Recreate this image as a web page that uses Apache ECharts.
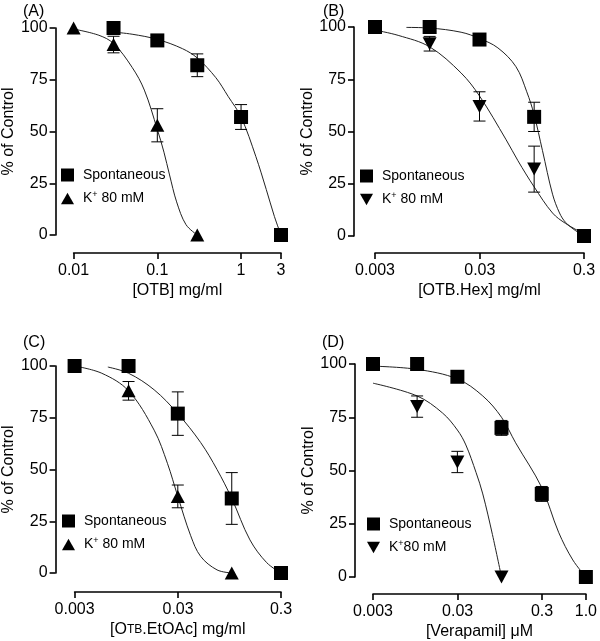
<!DOCTYPE html>
<html><head><meta charset="utf-8">
<script src="https://cdn.jsdelivr.net/npm/echarts@6/dist/echarts.min.js"></script>
<style>html,body{margin:0;padding:0;background:#fff}#c{width:600px;height:641px}</style>
</head><body><div id="c"></div>
<script>
// ---------- Panel A : [OTB] ----------
const A_ticks = [0.01, 0.1, 1, 3];
const A_tickLabels = ['0.01', '0.1', '1', '3'];
const A_spont_x = [0.03, 0.1, 0.3, 1, 3];
const A_spont_y = [100, 94, 82, 57, 0];
const A_spont_err = [0, 0, 5.5, 6, 0];
const A_k_x = [0.01, 0.03, 0.1, 0.3];
const A_k_y = [100, 92, 53, 0];
const A_k_err = [0, 4, 8, 0];
const A_spontFit_x = [0.03, 0.05, 0.1, 0.2, 0.3, 0.5, 0.7, 1, 1.5, 2, 2.5, 3];
const A_spontFit_y = [98, 97, 94.5, 90, 85.5, 76, 67, 57, 38, 22, 9, 0];
const A_kFit_x = [0.01, 0.02, 0.03, 0.05, 0.07, 0.1, 0.12, 0.14, 0.17, 0.22, 0.3];
const A_kFit_y = [99.5, 96.5, 92.5, 81, 70, 51, 40, 29, 16, 5, 0];

// ---------- Panel B : [OTB.Hex] ----------
const B_ticks = [0.003, 0.03, 0.3];
const B_tickLabels = ['0.003', '0.03', '0.3'];
const B_spont_x = [0.003, 0.01, 0.03, 0.1, 0.3];
const B_spont_y = [100, 100, 94, 57, 0];
const B_spont_err = [0, 0, 0, 7, 0];
const B_k_x = [0.01, 0.03, 0.1, 0.3];
const B_k_y = [92, 62, 32, 0];
const B_k_err = [3.5, 7, 11, 0];
const B_spontFit_x = [0.006, 0.01, 0.02, 0.03, 0.045, 0.067, 0.085, 0.1, 0.12, 0.15, 0.175, 0.2, 0.25, 0.3];
const B_spontFit_y = [99.8, 99.5, 97.5, 94.5, 90, 81, 69, 58, 41, 20, 11, 6.5, 2.5, 0];
const B_kFit_x = [0.003, 0.005, 0.01, 0.02, 0.03, 0.054, 0.07, 0.1, 0.15, 0.2, 0.3];
const B_kFit_y = [98.5, 96, 90.5, 78, 67, 46, 36, 23.5, 11, 6, 1];

// ---------- Panel C : [OTB.EtOAc] ----------
const C_ticks = [0.003, 0.03, 0.3];
const C_tickLabels = ['0.003', '0.03', '0.3'];
const C_spont_x = [0.003, 0.01, 0.03, 0.1, 0.3];
const C_spont_y = [100, 100, 77, 36, 0];
const C_spont_err = [0, 0, 10.5, 12.5, 0];
const C_k_x = [0.01, 0.03, 0.1];
const C_k_y = [88, 37, 0];
const C_k_err = [4.5, 5.5, 0];
const C_spontFit_x = [0.0063, 0.01, 0.0177, 0.03, 0.05, 0.072, 0.1, 0.15, 0.218, 0.3];
const C_spontFit_y = [99.5, 96.5, 88.5, 77, 63, 50, 36, 16, 5, 0];
const C_kFit_x = [0.003, 0.0055, 0.01, 0.0177, 0.0238, 0.03, 0.04, 0.05, 0.072, 0.1];
const C_kFit_y = [100, 96.5, 88, 69, 53, 37, 18, 8, 1.5, 0];

// ---------- Panel D : [Verapamil] ----------
const D_ticks = [0.003, 0.03, 0.3, 1];
const D_tickLabels = ['0.003', '0.03', '0.3', '1.0'];
const D_spont_x = [0.003, 0.01, 0.03, 0.1, 0.3, 1];
const D_spont_y = [100, 100, 94, 70, 39, 0];
const D_spont_err = [0, 0, 0, 3.5, 3.5, 0];
const D_k_x = [0.01, 0.03, 0.1];
const D_k_y = [80, 54, 0];
const D_k_err = [5, 5, 0];
const D_spontFit_x = [0.003, 0.01, 0.03, 0.06, 0.1, 0.147, 0.3, 0.475, 0.7, 1];
const D_spontFit_y = [99, 97.5, 93, 85, 75, 63, 42, 21, 8, 0];
const D_kFit_x = [0.003, 0.01, 0.02, 0.03, 0.0378, 0.05, 0.06, 0.078, 0.1];
const D_kFit_y = [91, 85, 77, 69, 62, 49, 39, 20, 0];

const yTicksInterval = 25;

const FONT = '"Liberation Sans", Arial, sans-serif';
const DOWN_TRI = 'path://M0,0L10,0L5,9Z';
const UP_TRI = 'path://M5,0L10,9L0,9Z';

const panels = [
  {id:'A', title:'(A)', tl:[23,4], grid:{left:73, top:28, width:208, height:207}, yOff:18, xOff:18,
   min:0.01, max:3, ticks:A_ticks, labels:A_tickLabels, xname:'[OTB] mg/ml',
   spont:[A_spont_x,A_spont_y,A_spont_err], k:[A_k_x,A_k_y,A_k_err],
   sFit:[A_spontFit_x,A_spontFit_y], kFit:[A_kFit_x,A_kFit_y],
   kName:'K+ 80 mM', kSym:UP_TRI, legend:[56,163]},
  {id:'B', title:'(B)', tl:[323,4], grid:{left:375, top:27, width:209, height:209}, yOff:21, xOff:17,
   min:0.003, max:0.3, ticks:B_ticks, labels:B_tickLabels, xname:'[OTB.Hex] mg/ml',
   spont:[B_spont_x,B_spont_y,B_spont_err], k:[B_k_x,B_k_y,B_k_err],
   sFit:[B_spontFit_x,B_spontFit_y], kFit:[B_kFit_x,B_kFit_y],
   kName:'K+ 80 mM', kSym:DOWN_TRI, legend:[355,164]},
  {id:'C', title:'(C)', tl:[23,335], grid:{left:73, top:366, width:208, height:207}, yOff:19, xOff:19,
   min:0.003, max:0.3, ticks:C_ticks, labels:C_tickLabels, xname:'[O{sc|TB}.EtOAc] mg/ml',
   spont:[C_spont_x,C_spont_y,C_spont_err], k:[C_k_x,C_k_y,C_k_err],
   sFit:[C_spontFit_x,C_spontFit_y], kFit:[C_kFit_x,C_kFit_y],
   kName:'K+ 80 mM', kSym:UP_TRI, legend:[57,509]},
  {id:'D', title:'(D)', tl:[322,335], grid:{left:373, top:364, width:213, height:213}, yOff:18, xOff:17,
   min:0.003, max:1, ticks:D_ticks, labels:D_tickLabels, xname:'[Verapamil] \u03bcM',
   spont:[D_spont_x,D_spont_y,D_spont_err], k:[D_k_x,D_k_y,D_k_err],
   sFit:[D_spontFit_x,D_spontFit_y], kFit:[D_kFit_x,D_kFit_y],
   kName:'K+80 mM', kSym:DOWN_TRI, legend:[362,512]}
];

function zip(xs, ys){ return xs.map((x,i)=>[x, ys[i]]); }

const option = {
  animation:false,
  backgroundColor:'#fff',
  textStyle:{fontFamily:FONT, color:'#000'},
  graphic:[], grid:[], xAxis:[], yAxis:[], series:[], legend:[]
};

panels.forEach((p, i) => {
  option.graphic.push({type:'text', left:p.tl[0], top:p.tl[1], z:10,
    style:{text:p.title, fontFamily:FONT, fontSize:16, fill:'#000'}});
  option.grid.push(Object.assign({containLabel:false}, p.grid));
  const ticks = p.ticks, labels = p.labels;
  option.xAxis.push({
    type:'log', logBase:10, gridIndex:i, min:p.min, max:p.max, interval:1,
    offset:p.xOff, name:p.xname, nameLocation:'middle', nameGap:30,
    nameTextStyle:{fontFamily:FONT, fontSize:16, color:'#000',
      rich:{sc:{fontFamily:FONT, fontSize:12, color:'#000'}}},
    axisLine:{show:true, onZero:false, lineStyle:{color:'#000', width:1.6}},
    axisTick:{show:true, length:6, lineStyle:{color:'#000', width:1.6}},
    minorTick:{show:false}, splitLine:{show:false},
    axisLabel:{fontFamily:FONT, fontSize:16, color:'#000', margin:10, hideOverlap:false,
      showMinLabel:true, showMaxLabel:true,
      formatter:function(v){
        for (let j=0;j<ticks.length;j++){
          if (Math.abs(Math.log10(v)-Math.log10(ticks[j]))<0.02) return labels[j];
        }
        return '';
      }}
  });
  option.yAxis.push({
    type:'value', gridIndex:i, min:0, max:100, interval:yTicksInterval,
    offset:p.yOff, name:'% of Control', nameLocation:'middle', nameGap:31,
    nameTextStyle:{fontFamily:FONT, fontSize:16, color:'#000'},
    axisLine:{show:true, onZero:false, lineStyle:{color:'#000', width:1.6}},
    axisTick:{show:true, length:6, lineStyle:{color:'#000', width:1.6}},
    splitLine:{show:false},
    axisLabel:{fontFamily:FONT, fontSize:16, color:'#000', margin:8}
  });
  // fitted curves
  [p.sFit, p.kFit].forEach((f, fi) => {
    option.series.push({type:'line', name:'fit'+fi+p.id, xAxisIndex:i, yAxisIndex:i,
      data:zip(f[0], f[1]), smooth:0.35, showSymbol:false, symbol:'none',
      lineStyle:{color:'#222', width:1}, z:1, silent:true, clip:false});
  });
  // error bars
  [p.spont, p.k].forEach((d, si) => {
    option.series.push({type:'custom', name:'err'+p.id+si, xAxisIndex:i, yAxisIndex:i, z:2,
      data:d[0].map((x,k)=>[x, d[1][k], d[2][k]]),
      renderItem:function(params, api){
        const x = api.value(0), y = api.value(1), e = api.value(2);
        if (!e) return null;
        const hi = api.coord([x, y+e]), lo = api.coord([x, y-e]);
        const cw = 6;
        const st = {stroke:'#000', lineWidth:1};
        return {type:'group', children:[
          {type:'line', shape:{x1:hi[0], y1:hi[1], x2:lo[0], y2:lo[1]}, style:st},
          {type:'line', shape:{x1:hi[0]-cw, y1:hi[1], x2:hi[0]+cw, y2:hi[1]}, style:st},
          {type:'line', shape:{x1:lo[0]-cw, y1:lo[1], x2:lo[0]+cw, y2:lo[1]}, style:st}
        ]};
      }});
  });
  // points
  option.series.push({type:'scatter', name:'Spontaneous', xAxisIndex:i, yAxisIndex:i,
    data:zip(p.spont[0], p.spont[1]), symbol:'rect', symbolSize:14,
    itemStyle:{color:'#000', opacity:1}, z:3, clip:false});
  option.series.push({type:'scatter', name:p.kName, xAxisIndex:i, yAxisIndex:i,
    data:zip(p.k[0], p.k[1]), symbol:p.kSym, symbolSize:[14,13],
    itemStyle:{color:'#000', opacity:1}, z:3, clip:false});
  option.legend.push({
    left:p.legend[0], top:p.legend[1], orient:'vertical', itemGap:8, itemWidth:13, itemHeight:13,
    selectedMode:false,
    itemStyle:{color:'#000', opacity:1},
    data:[{name:'Spontaneous', icon:'rect'}, {name:p.kName, icon:p.kSym}],
    textStyle:{fontFamily:FONT, fontSize:14, color:'#000', padding:[0,0,0,4],
      rich:{sup:{fontFamily:FONT, fontSize:9, color:'#000', verticalAlign:'top', padding:[0,0,8,0]}}},
    formatter:function(n){ return n.replace('K+', 'K{sup|+}'); }
  });
});

const chart = echarts.init(document.getElementById('c'), null, {renderer:'canvas'});
chart.setOption(option);
</script>
</body></html>
